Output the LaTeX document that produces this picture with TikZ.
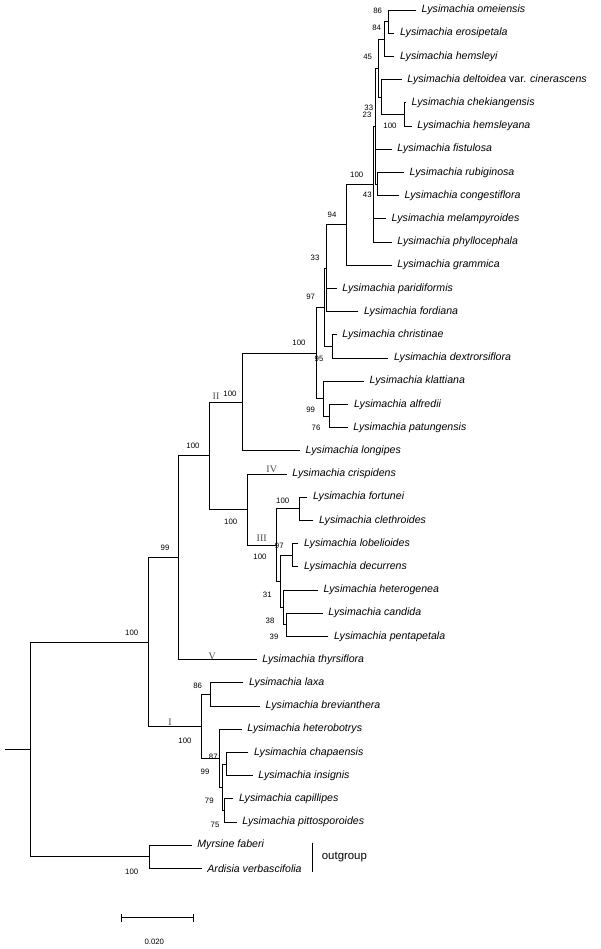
\documentclass[tikz,border=0pt]{standalone}
\usepackage{fontspec}
\setmainfont{Liberation Sans}
\newfontfamily\romfont{Liberation Serif}
\begin{document}
\begin{tikzpicture}[x=1pt,y=-1pt,
  br/.style={draw=black,line width=0.7pt},
  taxon/.style={anchor=west,inner sep=0pt,xshift=5.5pt,font=\fontsize{10.6}{12}\selectfont\itshape},
  bs/.style={inner sep=0pt,font=\fontsize{7.8}{9}\selectfont},
  cladelab/.style={inner sep=0pt,text=black!70,font=\romfont\fontsize{10}{12}\selectfont},
  grp/.style={anchor=west,inner sep=0pt,font=\fontsize{11.4}{13}\selectfont}]
\useasboundingbox (0,0) rectangle (600,949);
% tips
\coordinate (t0) at (416,10);     \node[taxon] (l0) at (t0) {Lysimachia omeiensis};
\coordinate (t1) at (394.3,33.2); \node[taxon] (l1) at (t1) {Lysimachia erosipetala};
\coordinate (t2) at (394.3,56.4); \node[taxon] (l2) at (t2) {Lysimachia hemsleyi};
\coordinate (t3) at (401.7,79.6); \node[taxon] (l3) at (t3) {Lysimachia deltoidea {\upshape var.} cinerascens};
\coordinate (t4) at (406,102.8);  \node[taxon] (l4) at (t4) {Lysimachia chekiangensis};
\coordinate (t5) at (411.7,126);  \node[taxon] (l5) at (t5) {Lysimachia hemsleyana};
\coordinate (t6) at (391.7,149.2);\node[taxon] (l6) at (t6) {Lysimachia fistulosa};
\coordinate (t7) at (404,172.4);  \node[taxon] (l7) at (t7) {Lysimachia rubiginosa};
\coordinate (t8) at (399,195.6);  \node[taxon] (l8) at (t8) {Lysimachia congestiflora};
\coordinate (t9) at (386,218.8);  \node[taxon] (l9) at (t9) {Lysimachia melampyroides};
\coordinate (t10) at (391.7,242); \node[taxon] (l10) at (t10) {Lysimachia phyllocephala};
\coordinate (t11) at (391.7,265.2); \node[taxon] (l11) at (t11) {Lysimachia grammica};
\coordinate (t12) at (336.7,288.4); \node[taxon] (l12) at (t12) {Lysimachia paridiformis};
\coordinate (t13) at (358.3,311.6); \node[taxon] (l13) at (t13) {Lysimachia fordiana};
\coordinate (t14) at (336.7,334.8); \node[taxon] (l14) at (t14) {Lysimachia christinae};
\coordinate (t15) at (388.3,358);   \node[taxon] (l15) at (t15) {Lysimachia dextrorsiflora};
\coordinate (t16) at (364,381.2);   \node[taxon] (l16) at (t16) {Lysimachia klattiana};
\coordinate (t17) at (348.3,404.4); \node[taxon] (l17) at (t17) {Lysimachia alfredii};
\coordinate (t18) at (347.7,427.6); \node[taxon] (l18) at (t18) {Lysimachia patungensis};
\coordinate (t19) at (300,450.8);   \node[taxon] (l19) at (t19) {Lysimachia longipes};
\coordinate (t20) at (286.7,474);   \node[taxon] (l20) at (t20) {Lysimachia crispidens};
\coordinate (t21) at (307.3,497.2); \node[taxon] (l21) at (t21) {Lysimachia fortunei};
\coordinate (t22) at (313.3,520.4); \node[taxon] (l22) at (t22) {Lysimachia clethroides};
\coordinate (t23) at (298.3,543.6); \node[taxon] (l23) at (t23) {Lysimachia lobelioides};
\coordinate (t24) at (298.3,566.8); \node[taxon] (l24) at (t24) {Lysimachia decurrens};
\coordinate (t25) at (318,590);     \node[taxon] (l25) at (t25) {Lysimachia heterogenea};
\coordinate (t26) at (322.7,613.2); \node[taxon] (l26) at (t26) {Lysimachia candida};
\coordinate (t27) at (328.3,636.4); \node[taxon] (l27) at (t27) {Lysimachia pentapetala};
\coordinate (t28) at (256.7,659.6); \node[taxon] (l28) at (t28) {Lysimachia thyrsiflora};
\coordinate (t29) at (243.3,682.8); \node[taxon] (l29) at (t29) {Lysimachia laxa};
\coordinate (t30) at (260,706);     \node[taxon] (l30) at (t30) {Lysimachia brevianthera};
\coordinate (t31) at (241.7,729.2); \node[taxon] (l31) at (t31) {Lysimachia heterobotrys};
\coordinate (t32) at (248.3,752.4); \node[taxon] (l32) at (t32) {Lysimachia chapaensis};
\coordinate (t33) at (252.7,775.6); \node[taxon] (l33) at (t33) {Lysimachia insignis};
\coordinate (t34) at (233.3,798.8); \node[taxon] (l34) at (t34) {Lysimachia capillipes};
\coordinate (t35) at (236.7,822);   \node[taxon] (l35) at (t35) {Lysimachia pittosporoides};
\coordinate (t36) at (191.7,845.2); \node[taxon] (l36) at (t36) {Myrsine faberi};
\coordinate (t37) at (201.7,868.4); \node[taxon] (l37) at (t37) {Ardisia verbascifolia};
% internal nodes
\coordinate (n86) at (388.3,21.6);
\coordinate (n84) at (384.3,39);
\coordinate (n100c) at (404.3,114.4);
\coordinate (n33) at (381,97);
\coordinate (n45) at (378.3,68);
\coordinate (n43) at (377.7,184);
\coordinate (n23) at (375.7,126);
\coordinate (n100a) at (373.3,184);
\coordinate (n94) at (346.7,224.6);
\coordinate (n33b) at (326.8,268.1);
\coordinate (n95) at (332.7,346.4);
\coordinate (nY) at (324.5,307.25);
\coordinate (n76) at (329.3,416);
\coordinate (n99k) at (323.3,398.6);
\coordinate (n97) at (316,352.9);
\coordinate (nII) at (242.3,401.85);
\coordinate (nfc) at (299.3,508.8);
\coordinate (nld) at (292.5,555.2);
\coordinate (n38) at (286,624.8);
\coordinate (n31) at (283.3,607.4);
\coordinate (nx) at (280,581.3);
\coordinate (nIII) at (276.7,545.05);
\coordinate (nIV) at (247.3,509.5);
\coordinate (n100b) at (209.3,455.7);
\coordinate (n99t) at (178.7,557.6);
\coordinate (n86b) at (210.7,694.4);
\coordinate (nci) at (226.7,764);
\coordinate (n75) at (224.3,810.4);
\coordinate (n79) at (222.7,787.2);
\coordinate (n87) at (219.3,758.2);
\coordinate (nI) at (201.7,726.3);
\coordinate (n100r) at (148.3,641.95);
\coordinate (nout) at (149.3,856.8);
\coordinate (root) at (30,749.4);
\coordinate (stub) at (5,749.4);
% branches
\draw[br] (t0) -| (n86); \draw[br] (t1) -| (n86);
\draw[br] (n86) -| (n84); \draw[br] (t2) -| (n84);
\draw[br] (t4) -| (n100c); \draw[br] (t5) -| (n100c);
\draw[br] (t3) -| (n33); \draw[br] (n100c) -| (n33);
\draw[br] (n84) -| (n45); \draw[br] (n33) -| (n45);
\draw[br] (t7) -| (n43); \draw[br] (t8) -| (n43);
\draw[br] (n45) -| (n23); \draw[br] (t6) -| (n23); \draw[br] (n43) -| (n23);
\draw[br] (n23) -| (n100a); \draw[br] (t9) -| (n100a); \draw[br] (t10) -| (n100a);
\draw[br] (n100a) -| (n94); \draw[br] (t11) -| (n94);
\draw[br] (n94) -| (n33b); \draw[br] (t12) -| (n33b); \draw[br] (t13) -| (n33b);
\draw[br] (t14) -| (n95); \draw[br] (t15) -| (n95);
\draw[br] (n33b) -| (nY); \draw[br] (n95) -| (nY);
\draw[br] (t17) -| (n76); \draw[br] (t18) -| (n76);
\draw[br] (t16) -| (n99k); \draw[br] (n76) -| (n99k);
\draw[br] (nY) -| (n97); \draw[br] (n99k) -| (n97);
\draw[br] (n97) -| (nII); \draw[br] (t19) -| (nII);
\draw[br] (t21) -| (nfc); \draw[br] (t22) -| (nfc);
\draw[br] (t23) -| (nld); \draw[br] (t24) -| (nld);
\draw[br] (t26) -| (n38); \draw[br] (t27) -| (n38);
\draw[br] (t25) -| (n31); \draw[br] (n38) -| (n31);
\draw[br] (nld) -| (nx); \draw[br] (n31) -| (nx);
\draw[br] (nfc) -| (nIII); \draw[br] (nx) -| (nIII);
\draw[br] (t20) -| (nIV); \draw[br] (nIII) -| (nIV);
\draw[br] (nII) -| (n100b); \draw[br] (nIV) -| (n100b);
\draw[br] (n100b) -| (n99t); \draw[br] (t28) -| (n99t);
\draw[br] (t29) -| (n86b); \draw[br] (t30) -| (n86b);
\draw[br] (t32) -| (nci); \draw[br] (t33) -| (nci);
\draw[br] (t34) -| (n75); \draw[br] (t35) -| (n75);
\draw[br] (nci) -| (n79); \draw[br] (n75) -| (n79);
\draw[br] (t31) -| (n87); \draw[br] (n79) -| (n87);
\draw[br] (n86b) -| (nI); \draw[br] (n87) -| (nI);
\draw[br] (n99t) -| (n100r); \draw[br] (nI) -| (n100r);
\draw[br] (t36) -| (nout); \draw[br] (t37) -| (nout);
\draw[br] (n100r) -| (root); \draw[br] (nout) -| (root);
\draw[br] (stub) -- (root);
% bootstrap values
\node[bs] (b1) at (377.7,11) {86};
\node[bs] (b2) at (376.7,28.3) {84};
\node[bs] (b3) at (367.7,56.7) {45};
\node[bs] (b4) at (368.8,107.5) {33};
\node[bs] (b5) at (367,115) {23};
\node[bs] (b6) at (390,126) {100};
\node[bs] (b7) at (356.7,174.5) {100};
\node[bs] (b8) at (367.3,195) {43};
\node[bs] (b9) at (332,215) {94};
\node[bs] (b10) at (315,258.3) {33};
\node[bs] (b11) at (310.7,297.3) {97};
\node[bs] (b12) at (299,342.7) {100};
\node[bs] (b13) at (319,358.5) {95};
\node[bs] (b14) at (310.7,410) {99};
\node[bs] (b15) at (316,428) {76};
\node[bs] (b16) at (230,394) {100};
\node[bs] (b17) at (193,445.7) {100};
\node[bs] (b18) at (230.7,521.7) {100};
\node[bs] (b19) at (282.7,500.5) {100};
\node[bs] (b20) at (279.3,546) {97};
\node[bs] (b21) at (260,557.3) {100};
\node[bs] (b22) at (267.3,595) {31};
\node[bs] (b23) at (270,620.7) {38};
\node[bs] (b24) at (274,637.3) {39};
\node[bs] (b25) at (165,548.3) {99};
\node[bs] (b26) at (131.7,633.3) {100};
\node[bs] (b27) at (197.7,686) {86};
\node[bs] (b28) at (185,740.7) {100};
\node[bs] (b29) at (213.3,756.7) {87};
\node[bs] (b30) at (205,771.7) {99};
\node[bs] (b31) at (209.3,801) {79};
\node[bs] (b32) at (215,825) {75};
\node[bs] (b33) at (131.7,871.7) {100};
% clade numerals
\node[cladelab] (c2) at (216,396.7) {II};
\node[cladelab] (c4) at (271.7,469.3) {IV};
\node[cladelab] (c3) at (261.7,538.3) {III};
\node[cladelab] (c5) at (212.3,656) {V};
\node[cladelab] (c1) at (170,722.7) {I};
% outgroup bracket
\coordinate (ob1) at (312.3,842.7);
\coordinate (ob2) at (312.3,872.3);
\draw[br] (ob1) -- (ob2);
\node[grp] (og) at (321.7,856.7) {outgroup};
% scale bar
\coordinate (s1) at (121.7,917.7);
\coordinate (s2) at (193.3,917.7);
\draw[br] (s1) -- (s2);
\draw[br] ([yshift=-4pt]s1) -- ([yshift=4pt]s1);
\draw[br] ([yshift=-4pt]s2) -- ([yshift=4pt]s2);
\node[bs] (sl) at (154.3,942.3) {0.020};
\end{tikzpicture}
\end{document}
